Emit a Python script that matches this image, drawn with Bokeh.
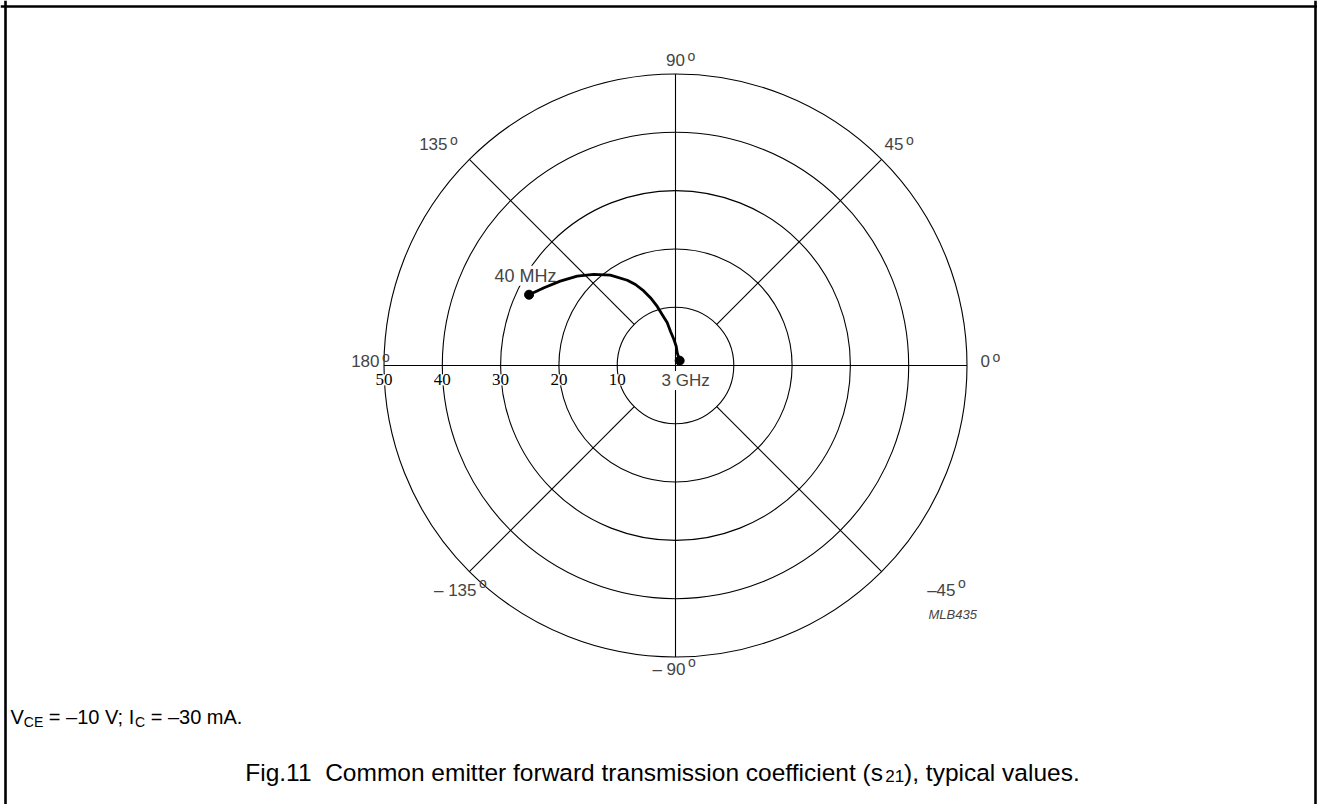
import math
from bokeh.plotting import figure
from bokeh.models import ColumnDataSource, Label, LabelSet, Span, Range1d
from bokeh.embed import file_html
from bokeh.resources import INLINE

# ---------------- data ----------------
ring_values = [10, 20, 30, 40, 50]
ring_labels = ["10", "20", "30", "40", "50"]
spoke_angles = [0, 45, 90, 135, 180, 225, 270, 315]
angle_tick_labels = ["0", "45", "90", "135", "180", "\u2013 135", "\u2013 90", "\u201345"]
# s21 magnitude and angle (deg), from 40 MHz to 3 GHz
s21_mag = [27.9, 26.2, 24.5, 22.8, 21.0, 19.1, 16.8, 15.5, 13.9, 12.4, 10.6, 9.0, 7.5,
           5.9, 4.5, 3.3, 2.2, 1.1]
s21_ang = [154.2, 149.4, 143.8, 137.7, 131.9, 125.8, 119.5, 116.3, 113.1, 110.3, 107.2,
           104.6, 101.0, 98.3, 93.7, 87.9, 82.4, 49.3]
start_label = "40 MHz"
end_label = "3 GHz"

# ---------------- layout ----------------
W, H = 1317, 804
CX, CY = 675.0, 365.0      # px of polar origin
S = 5.83                   # px per unit
FONT = "Liberation Sans"
TOPK = 0.094               # em-top to digit-top distance (em)
BASEK = 0.81               # em-top to baseline distance (em)

def ux(px):
    return (px - CX) / S

def uy(py):
    return (CY - py) / S

p = figure(width=W, height=H, output_backend="svg", toolbar_location=None,
           x_range=Range1d(-CX / S, (W - CX) / S),
           y_range=Range1d(-(H - CY) / S, CY / S),
           min_border=0, outline_line_color=None)
p.axis.visible = False
p.xgrid.visible = False
p.ygrid.visible = False
p.background_fill_color = "white"

# frame
for loc, dim in [(ux(5), "height"), (ux(W - 2), "height"), (uy(6), "width")]:
    p.add_layout(Span(location=loc, dimension=dim, line_color="black", line_width=2.6))

# rings
p.circle(x=[0] * len(ring_values), y=[0] * len(ring_values), radius=ring_values,
         fill_color=None, line_color="black", line_width=1.1)

# spokes
rmax = ring_values[-1]
x0s, y0s, x1s, y1s = [], [], [], []
for a in spoke_angles:
    r0 = 0 if a % 90 == 0 else ring_values[0]
    t = math.radians(a)
    x0s.append(r0 * math.cos(t)); y0s.append(r0 * math.sin(t))
    x1s.append(rmax * math.cos(t)); y1s.append(rmax * math.sin(t))
p.segment(x0=x0s, y0=y0s, x1=x1s, y1=y1s, line_color="black", line_width=1.1)

# curve (drawn above the label backgrounds)
cx = [m * math.cos(math.radians(a)) for m, a in zip(s21_mag, s21_ang)]
cy = [m * math.sin(math.radians(a)) for m, a in zip(s21_mag, s21_ang)]
r1 = p.line(cx, cy, line_color="black", line_width=2.8, line_join="round", line_cap="round")
r2 = p.scatter([cx[0], cx[-1]], [cy[0], cy[-1]], size=9, color="black")
r1.level = "overlay"
r2.level = "overlay"

def top_of(cap_top, size):
    return cap_top - TOPK * size

# ring labels
rsrc = ColumnDataSource(dict(x=[-v for v in ring_values],
                             y=[uy(top_of(375.5, 17))] * len(ring_values),
                             text=ring_labels))
p.add_layout(LabelSet(x="x", y="y", text="text", source=rsrc, text_align="center",
                      text_baseline="top", text_font=FONT, text_font_size="17px",
                      text_color="black", background_fill_color="white"))

# curve labels
p.add_layout(Label(x=ux(556), y=uy(top_of(267, 18)), text=start_label, text_align="right",
                   text_baseline="top", text_font=FONT, text_font_size="18px",
                   background_fill_color="white"))
p.add_layout(Label(x=ux(661), y=uy(top_of(372, 17)), text=end_label, text_align="left",
                   text_baseline="top", text_font=FONT, text_font_size="17px",
                   background_fill_color="white"))

# angle labels: right edge of number, digit top (px)
angle_pos = {0: (989.5, 356), 45: (903, 139), 90: (684.5, 55), 135: (447, 139),
             180: (379, 356), 225: (476, 582), 270: (685, 661), 315: (955, 582)}
for a, lab in zip(spoke_angles, angle_tick_labels):
    rx, ty = angle_pos[a]
    p.add_layout(Label(x=ux(rx), y=uy(top_of(ty, 17)), text=lab, text_align="right",
                       text_baseline="top", text_font=FONT, text_font_size="17px"))
    p.add_layout(Label(x=ux(rx + 2.5), y=uy(ty - 7.5), text="o", text_align="left",
                       text_baseline="top", text_font=FONT, text_font_size="14px"))

# ---------------- texts with subscripts ----------------
NB = "\u00a0"
AW = {' ': .278, NB: .278, '=': .584, '\u2013': .556, '\u2212': .584, '.': .278, ';': .278,
      ',': .278, '(': .333, ')': .333, 'V': .667, 'C': .722, 'E': .667, 'I': .278, 'A': .667,
      'F': .611, 'G': .778, 'H': .722, 'M': .833, 'L': .556, 'B': .667,
      'a': .556, 'b': .556, 'c': .5, 'd': .556, 'e': .556, 'f': .278, 'g': .556, 'h': .556,
      'i': .222, 'j': .222, 'k': .5, 'l': .222, 'm': .833, 'n': .556, 'o': .556, 'p': .556,
      'q': .556, 'r': .333, 's': .5, 't': .278, 'u': .556, 'v': .5, 'w': .722, 'x': .5,
      'y': .5, 'z': .5}

def tw(s, size):
    return sum(AW.get(c, .556) for c in s) * size

def runs_width(runs):
    return sum(tw(t, sz) for t, sz, _ in runs)

def add_runs(runs, px, cap_top, main_size):
    base = top_of(cap_top, main_size) + BASEK * main_size
    x = px
    for t, sz, dy in runs:
        em_top = base + dy - BASEK * sz
        p.add_layout(Label(x=x, y=H - em_top, x_units="screen", y_units="screen",
                           text=t, text_align="left", text_baseline="top",
                           text_font=FONT, text_font_size=f"{sz}px", text_color="black"))
        x += tw(t, sz)

cond_runs = [("V", 20, 0), ("CE", 14, 4), (NB + "= \u201310 V; I", 20, 0), ("C", 14, 4),
             (NB + "= \u201330 mA.", 20, 0)]
add_runs(cond_runs, 10, 707, 20)

cap_runs = [("Fig.11" + NB + NB + "Common emitter forward transmission coefficient (s", 24.5, 0),
            ("21", 17, 5), ("), typical values.", 24.5, 0)]
add_runs(cap_runs, 662 - runs_width(cap_runs) / 2, 761, 24.5)

p.add_layout(Label(x=928, y=H - top_of(607.5, 13), x_units="screen", y_units="screen",
                   text="MLB435", text_align="left", text_baseline="top", text_font=FONT,
                   text_font_size="13px", text_font_style="italic"))

open("out.html", "w").write(file_html(p, INLINE))
